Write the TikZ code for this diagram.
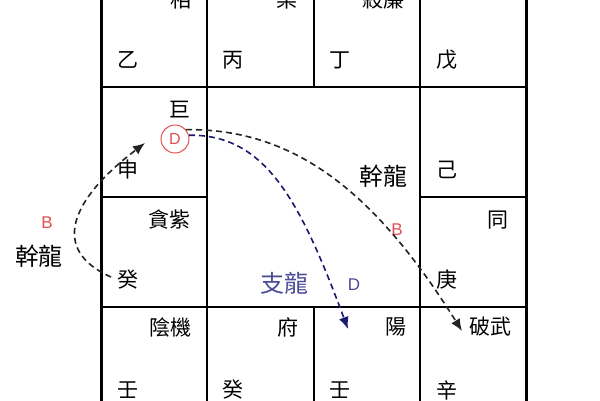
\documentclass[tikz,border=0pt]{standalone}
\usepackage{fontspec}
\setmainfont{Noto Sans CJK TC}
\newfontfamily\latinfont{Liberation Sans}
\usetikzlibrary{arrows.meta}
\definecolor{huared}{RGB}{225,80,80}
\definecolor{zhiblue}{RGB}{75,75,150}
\definecolor{navy}{RGB}{25,25,110}
\definecolor{darkline}{RGB}{35,35,35}

\begin{document}
\begin{tikzpicture}[x=1pt,y=-1pt,
  grid/.style={line width=2pt},
  frame/.style={line width=3.5pt},
  star/.style={anchor=east,inner sep=0pt,font=\fontsize{21}{21}\selectfont},
  stem/.style={anchor=west,inner sep=0pt,font=\fontsize{21}{21}\selectfont},
  dragon/.style={inner sep=0pt,font=\fontsize{24}{24}\selectfont},
  letter/.style={inner sep=0pt,font=\latinfont\fontsize{17}{17}\selectfont},
  flow/.style={dash pattern=on 6pt off 4pt,line width=1.6pt,
    -{Latex[length=12pt,width=10pt]}}]
  \useasboundingbox (0,0) rectangle (600,400);
  \clip (0,0) rectangle (600,400);
  \fill[white] (0,0) rectangle (600,400);
  % grid
  \draw[frame] (101.5,-30) -- (101.5,430);
  \draw[frame] (526.5,-30) -- (526.5,430);
  \draw[grid] (207,-30) -- (207,430);
  \draw[grid] (420,-30) -- (420,430);
  \draw[grid] (314,-30) -- (314,87);
  \draw[grid] (314,307) -- (314,430);
  \draw[grid] (101.5,87) -- (526.5,87);
  \draw[grid] (101.5,307) -- (526.5,307);
  \draw[grid] (101.5,197) -- (207,197);
  \draw[grid] (420,197) -- (526.5,197);
  % row 1
  \node[star] (t11) at (192,0) {相};
  \node[star] (t12) at (298,0) {梁};
  \node[star] (t13) at (405,0) {殺廉};
  \node[stem] (b11) at (117,60) {乙};
  \node[stem] (b12) at (222,60) {丙};
  \node[stem] (b13) at (329,60) {丁};
  \node[stem] (b14) at (436,60) {戊};
  % row 2
  \node[star] (t21) at (191,110) {巨};
  \node[stem] (b21) at (117,170) {申};
  \node[stem] (b24) at (436,170) {己};
  % row 3
  \node[star] (t31) at (191,220) {貪紫};
  \node[star] (t34) at (509,220) {同};
  \node[stem] (b31) at (117,280) {癸};
  \node[stem] (b34) at (436,280) {庚};
  % row 4
  \node[star] (t41) at (192,327) {陰機};
  \node[star] (t42) at (299,327) {府};
  \node[star] (t43) at (407,327) {陽};
  \node[star] (t44) at (512,327) {破武};
  \node[stem] (b41) at (117,390) {壬};
  \node[stem] (b42) at (222,390) {癸};
  \node[stem] (b43) at (329,390) {壬};
  \node[stem] (b44) at (436,390) {辛};
  % labels
  \node[dragon] (gan) at (383,176) {幹龍};
  \node[dragon,text=zhiblue] (zhi) at (284,283) {支龍};
  \node[letter,text=zhiblue] (dz) at (354,285) {D};
  \node[letter,text=huared] (bg) at (397,230) {B};
  \node[dragon] (ganl) at (39,256) {幹龍};
  \node[letter,text=huared] (bl) at (47,223) {B};
  \node[circle,draw=huared,line width=1pt,minimum size=28pt,inner sep=0pt,
    text=huared,font=\latinfont\fontsize{16}{16}\selectfont] (hua) at (175,139) {D};
  % arrows
  \coordinate (tipb) at (462,331);
  \coordinate (tipd) at (348,329);
  \coordinate (startl) at (111,277);
  \coordinate (tipl) at (145,143);
  \draw[flow,darkline] (hua.40) .. controls (300,128) and (380,200) .. (tipb);
  \draw[flow,navy] (hua.15) .. controls (265,134) and (300,200) .. (tipd);
  \draw[flow,darkline] (startl) .. controls (50,250) and (70,200) .. (tipl);
\end{tikzpicture}
\end{document}
